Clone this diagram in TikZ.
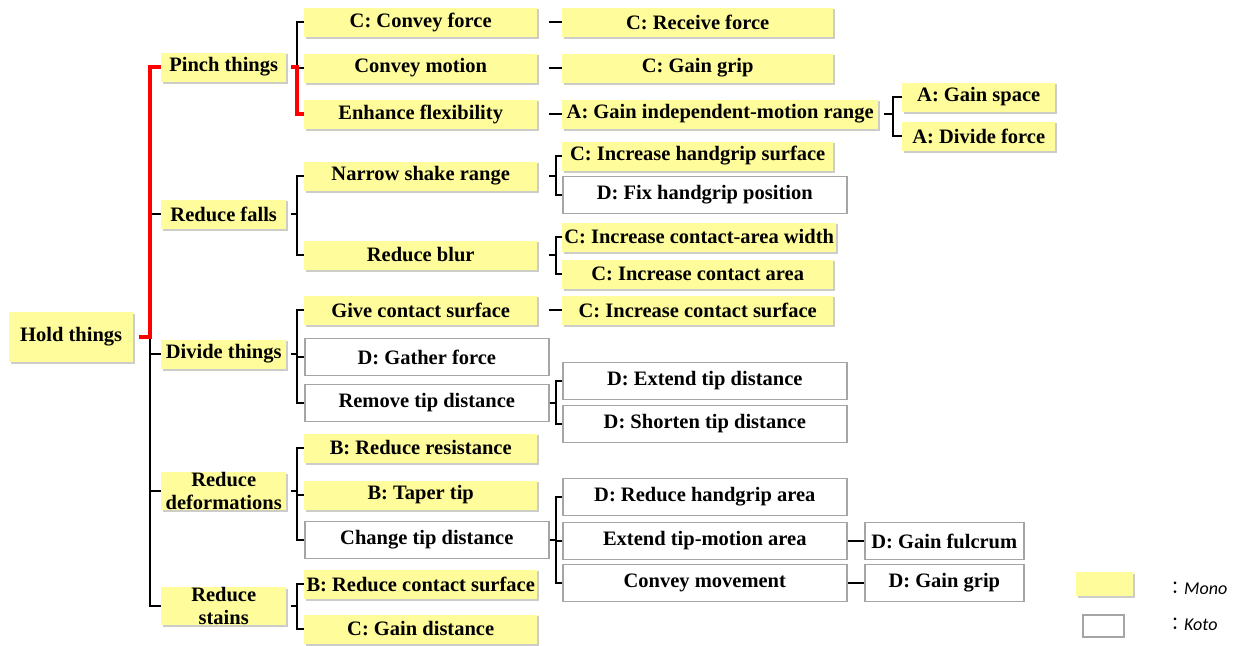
\documentclass[tikz,border=0pt]{standalone}
\usepackage{fontspec}
\setmainfont{Liberation Serif}
\newfontfamily\legendfont{Carlito}
\newfontfamily\cjkfont{Noto Sans CJK JP}
\usetikzlibrary{calc,backgrounds}
\definecolor{monoyellow}{RGB}{255,252,155}
\definecolor{noteshadow}{RGB}{205,205,200}
\definecolor{kotogray}{RGB}{165,165,165}
\definecolor{hotred}{RGB}{255,0,0}
\tikzset{
  lbl/.style={font=\bfseries\fontsize{20.5}{23}\selectfont, inner sep=0pt, anchor=west, align=center},
  mono/.style={lbl, fill=monoyellow, minimum height=29pt},
  koto/.style={lbl, fill=white, draw=kotogray, line width=1.6pt, minimum height=37pt},
  conn/.style={draw=black, line width=1.2pt},
  hot/.style={draw=hotred, line width=3.5pt},
  noteshade/.style={fill=noteshadow},
}
\begin{document}
\begin{tikzpicture}[x=1pt, y=-1pt]
\useasboundingbox (0,0) rectangle (1246,645);

% root
\node[mono, minimum width=124pt, minimum height=50pt] (hold) at (9,337) {Hold things};

% first level
\begin{scope}[every node/.append style={minimum width=125pt, minimum height=48pt}]
\node[mono] (pinch)  at (161,67)  {Pinch things};
\node[mono] (falls)  at (161,214) {Reduce falls};
\node[mono] (divide) at (161,354) {Divide things};
\node[mono] (deform) at (161,491) {Reduce\\deformations};
\node[mono] (stains) at (161,606) {Reduce\\stains};
\end{scope}

% second level
\begin{scope}[every node/.append style={minimum width=233pt}]
\node[mono] (cforce)  at (304,22)  {C: Convey force};
\node[mono] (cmotion) at (304,68)  {Convey motion};
\node[mono] (flex)    at (304,114) {Enhance flexibility};
\node[mono] (narrow)  at (304,176) {Narrow shake range};
\node[mono] (blur)    at (304,255) {Reduce blur};
\node[mono] (givec)   at (304,310) {Give contact surface};
\node[mono] (resist)  at (304,448) {B: Reduce resistance};
\node[mono] (taper)   at (304,495) {B: Taper tip};
\node[mono] (redcs)   at (304,584) {B: Reduce contact surface};
\node[mono] (gaind)   at (304,629) {C: Gain distance};
\end{scope}
\begin{scope}[every node/.append style={minimum width=244pt}]
\node[koto] (gather)    at (304,357) {D: Gather force};
\node[koto] (removetip) at (304,403) {Remove tip distance};
\node[koto] (changetip) at (304,540) {Change tip distance};
\end{scope}

% third level
\begin{scope}[every node/.append style={minimum width=271pt}]
\node[mono] (recv)     at (562,22)  {C: Receive force};
\node[mono] (cgrip)    at (562,68)  {C: Gain grip};
\node[mono] (handsurf) at (562,156) {C: Increase handgrip surface};
\node[mono, minimum width=274pt] (width) at (562,237) {C: Increase contact-area width};
\node[mono] (carea)    at (562,274) {C: Increase contact area};
\node[mono] (csurf)    at (562,310) {C: Increase contact surface};
\end{scope}
\node[mono, minimum width=316pt] (indep) at (562,114) {A: Gain independent-motion range};
\begin{scope}[every node/.append style={minimum width=284pt}]
\node[koto] (fixhand)   at (562,195) {D: Fix handgrip position};
\node[koto] (extend)    at (562,381) {D: Extend tip distance};
\node[koto] (shorten)   at (562,424) {D: Shorten tip distance};
\node[koto] (handarea)  at (562,497) {D: Reduce handgrip area};
\node[koto] (tipmotion) at (562,541) {Extend tip-motion area};
\node[koto] (convmove)  at (562,583) {Convey movement};
\end{scope}

% fourth level
\begin{scope}[every node/.append style={minimum width=153pt}]
\node[mono] (space)    at (902,97)  {A: Gain space};
\node[mono] (divforce) at (902,136) {A: Divide force};
\end{scope}
\begin{scope}[every node/.append style={minimum width=159pt}]
\node[koto] (fulcrum) at (864,541) {D: Gain fulcrum};
\node[koto] (dgrip)   at (864,583) {D: Gain grip};
\end{scope}

% legend
\node[mono, anchor=center, minimum width=57pt, minimum height=24pt] (legmono) at (1104.5,584) {};
\node[koto, anchor=center, minimum width=41pt, minimum height=22pt, line width=1.3pt] (legkoto) at (1103.5,626) {};
\node[anchor=west, inner sep=0pt, font=\legendfont\fontsize{18}{20}\selectfont] (legmonotext) at (1166,588) {{\cjkfont ：}\itshape Mono};
\node[anchor=west, inner sep=0pt, font=\legendfont\fontsize{18}{20}\selectfont] (legkototext) at (1166,624) {{\cjkfont ：}\itshape Koto};

% soft shadows under the yellow notes
\begin{scope}[on background layer]
\foreach \n in {hold,pinch,falls,divide,deform,stains,cforce,cmotion,flex,narrow,blur,
                givec,resist,taper,redcs,gaind,recv,cgrip,handsurf,width,carea,csurf,
                indep,space,divforce,legmono}
  \fill[noteshade] ($(\n.south west)+(2,2)$) rectangle ($(\n.north east)+(2,2)$);
\end{scope}

% connectors: root
\foreach \c in {falls,divide,deform,stains}
  \draw[conn] ([xshift=6pt]hold.east) -| ([xshift=-11pt]\c.west) -- (\c.west);
\draw[hot] ([xshift=6pt]hold.east) -| ([xshift=-11pt]pinch.west) -- (pinch.west);

% connectors: first level
\foreach \c in {cforce,cmotion}
  \draw[conn] ([xshift=5pt]pinch.east) -| ([xshift=-7pt]\c.west) -- (\c.west);
\draw[hot] ([xshift=5pt]pinch.east) -| ([xshift=-7pt]flex.west) -- (flex.west);
\foreach \c in {narrow,blur}
  \draw[conn] ([xshift=5pt]falls.east) -| ([xshift=-7pt]\c.west) -- (\c.west);
\foreach \c in {givec,gather,removetip}
  \draw[conn] ([xshift=5pt]divide.east) -| ([xshift=-7pt]\c.west) -- (\c.west);
\foreach \c in {resist,taper,changetip}
  \draw[conn] ([xshift=5pt]deform.east) -| ([xshift=-7pt]\c.west) -- (\c.west);
\foreach \c in {redcs,gaind}
  \draw[conn] ([xshift=5pt]stains.east) -| ([xshift=-7pt]\c.west) -- (\c.west);

% connectors: second level
\draw[conn] ([xshift=12pt]cforce.east) -- (recv.west);
\draw[conn] ([xshift=12pt]cmotion.east) -- (cgrip.west);
\draw[conn] ([xshift=12pt]flex.east) -- (indep.west);
\draw[conn] ([xshift=12pt]givec.east) -- (csurf.west);
\foreach \c in {handsurf,fixhand}
  \draw[conn] ([xshift=12pt]narrow.east) -| ([xshift=-6pt]\c.west) -- (\c.west);
\foreach \c in {width,carea}
  \draw[conn] ([xshift=12pt]blur.east) -| ([xshift=-6pt]\c.west) -- (\c.west);
\foreach \c in {extend,shorten}
  \draw[conn] (removetip.east) -| ([xshift=-6pt]\c.west) -- (\c.west);
\foreach \c in {handarea,tipmotion,convmove}
  \draw[conn] (changetip.east) -| ([xshift=-6pt]\c.west) -- (\c.west);

% connectors: third level
\foreach \c in {space,divforce}
  \draw[conn] ([xshift=6pt]indep.east) -| ([xshift=-9pt]\c.west) -- (\c.west);
\draw[conn] (tipmotion.east) -- (fulcrum.west);
\draw[conn] (convmove.east) -- (dgrip.west);
\end{tikzpicture}
\end{document}
